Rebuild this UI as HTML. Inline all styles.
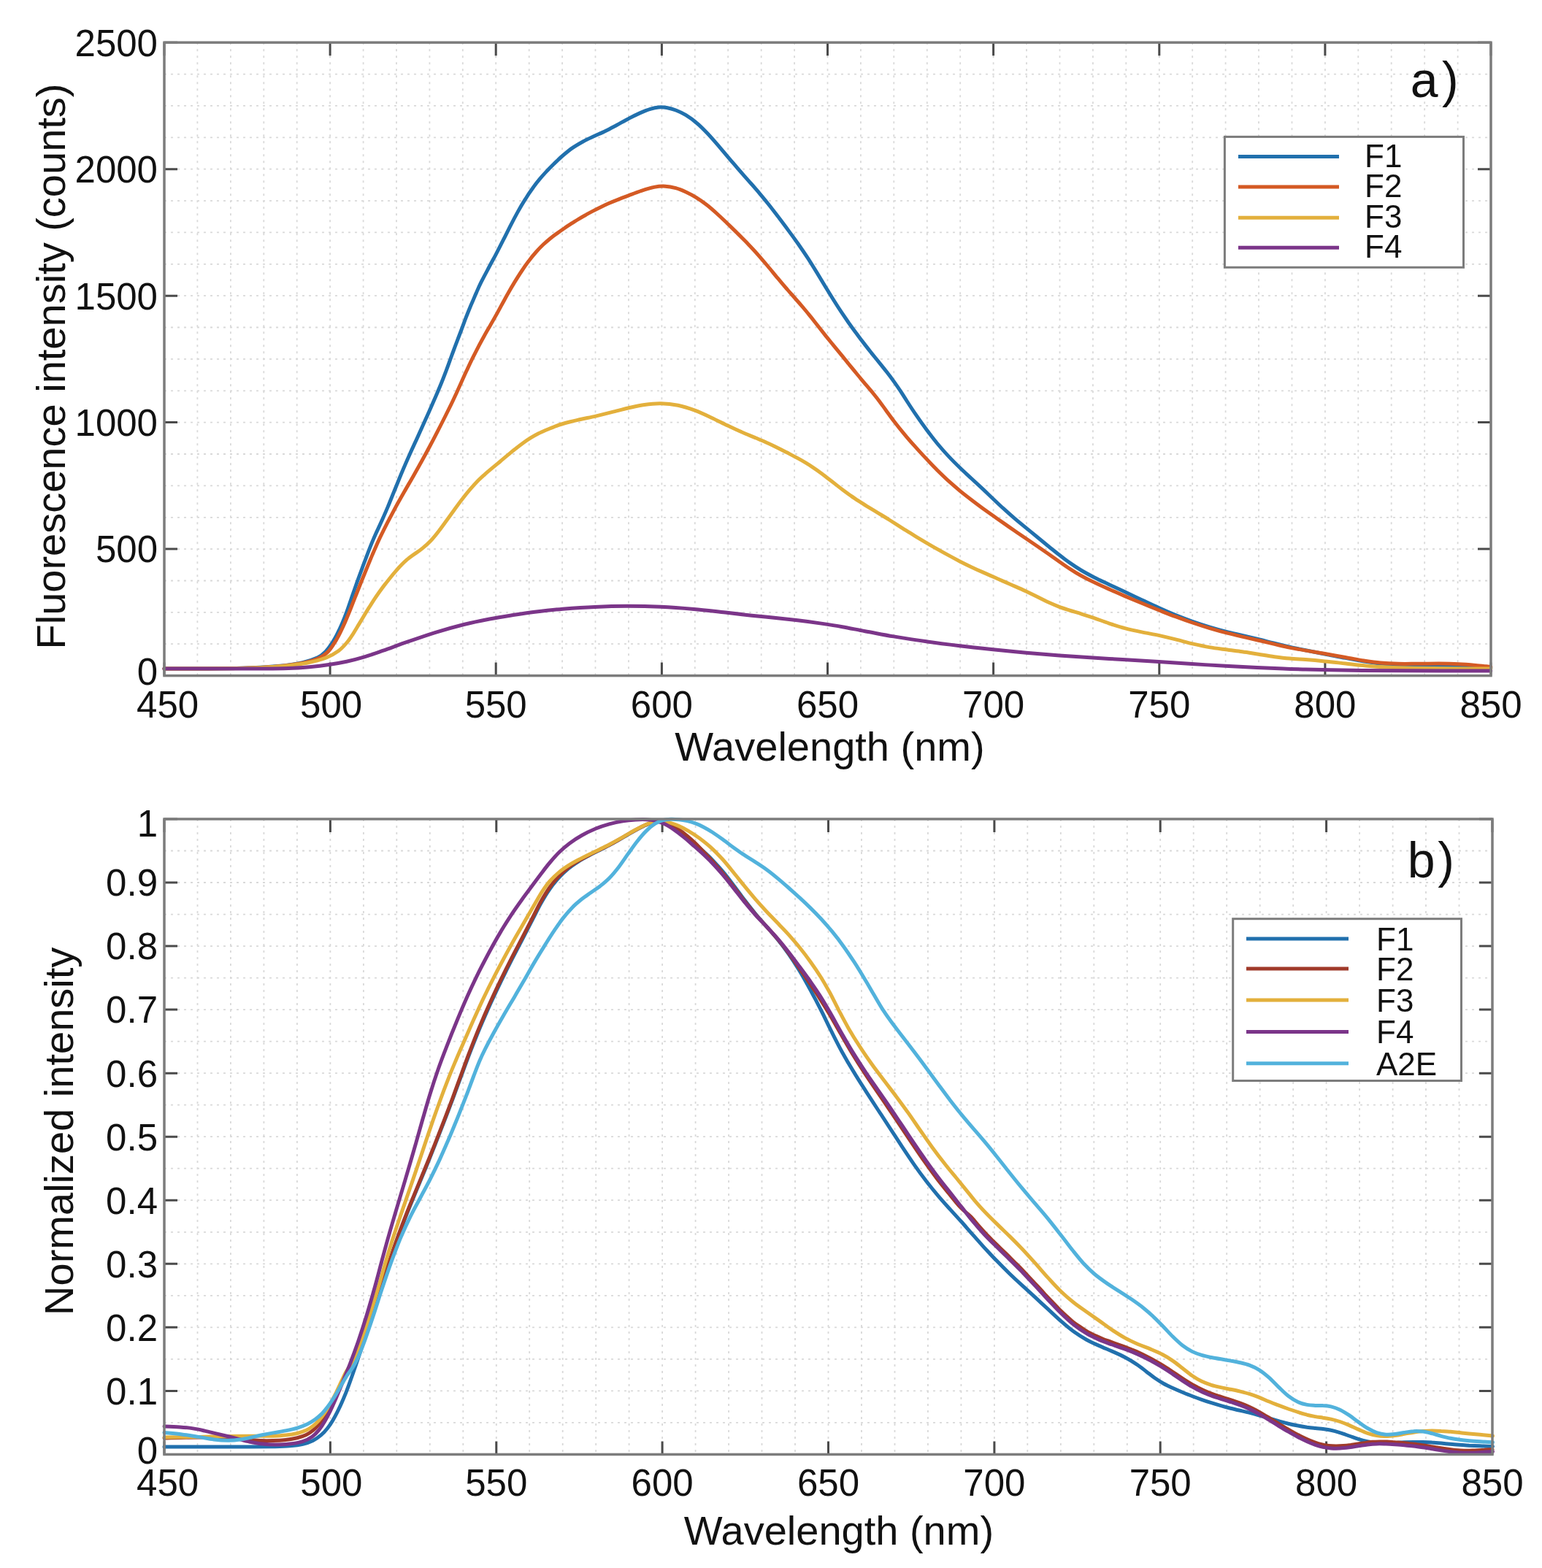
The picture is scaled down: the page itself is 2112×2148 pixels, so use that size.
<!DOCTYPE html>
<html><head><meta charset="utf-8"><title>Fluorescence spectra</title>
<style>html,body{margin:0;padding:0;background:#fff}svg{display:block}</style>
</head><body>
<svg xmlns="http://www.w3.org/2000/svg" width="2112" height="2148" viewBox="0 0 2112 2148">
<rect width="100%" height="100%" fill="#fff"/>
<path d="M270.4,58.2V925.6M315.9,58.2V925.6M361.3,58.2V925.6M406.7,58.2V925.6M452.1,58.2V925.6M497.6,58.2V925.6M543.0,58.2V925.6M588.4,58.2V925.6M633.8,58.2V925.6M679.2,58.2V925.6M724.7,58.2V925.6M770.1,58.2V925.6M815.5,58.2V925.6M861.0,58.2V925.6M906.4,58.2V925.6M951.8,58.2V925.6M997.2,58.2V925.6M1042.7,58.2V925.6M1088.1,58.2V925.6M1133.5,58.2V925.6M1178.9,58.2V925.6M1224.3,58.2V925.6M1269.8,58.2V925.6M1315.2,58.2V925.6M1360.6,58.2V925.6M1406.0,58.2V925.6M1451.5,58.2V925.6M1496.9,58.2V925.6M1542.3,58.2V925.6M1587.8,58.2V925.6M1633.2,58.2V925.6M1678.6,58.2V925.6M1724.0,58.2V925.6M1769.5,58.2V925.6M1814.9,58.2V925.6M1860.3,58.2V925.6M1905.7,58.2V925.6M1951.2,58.2V925.6M1996.6,58.2V925.6M225.0,882.2H2042.0M225.0,838.9H2042.0M225.0,795.5H2042.0M225.0,752.1H2042.0M225.0,708.8H2042.0M225.0,665.4H2042.0M225.0,622.0H2042.0M225.0,578.6H2042.0M225.0,535.3H2042.0M225.0,491.9H2042.0M225.0,448.5H2042.0M225.0,405.2H2042.0M225.0,361.8H2042.0M225.0,318.4H2042.0M225.0,275.1H2042.0M225.0,231.7H2042.0M225.0,188.3H2042.0M225.0,144.9H2042.0M225.0,101.6H2042.0" stroke="#d9d9d9" stroke-width="1.8" stroke-dasharray="3 6" fill="none"/>
<path d="M225.0,925.6v-18M225.0,58.2v18M452.1,925.6v-18M452.1,58.2v18M679.2,925.6v-18M679.2,58.2v18M906.4,925.6v-18M906.4,58.2v18M1133.5,925.6v-18M1133.5,58.2v18M1360.6,925.6v-18M1360.6,58.2v18M1587.8,925.6v-18M1587.8,58.2v18M1814.9,925.6v-18M1814.9,58.2v18M2042.0,925.6v-18M2042.0,58.2v18M225.0,925.6h18M2042.0,925.6h-18M225.0,752.1h18M2042.0,752.1h-18M225.0,578.6h18M2042.0,578.6h-18M225.0,405.2h18M2042.0,405.2h-18M225.0,231.7h18M2042.0,231.7h-18M225.0,58.2h18M2042.0,58.2h-18" stroke="#4a4a4a" stroke-width="3" fill="none"/>
<path d="M225.0,916.0 C231.1,916.0 249.3,916.0 261.9,916.0 C274.4,915.9 287.2,916.0 300.3,915.8 C313.4,915.7 327.1,915.6 340.5,915.1 C353.9,914.5 368.3,913.9 380.6,912.6 C392.9,911.4 405.2,909.6 414.3,907.6 C423.4,905.6 429.9,903.2 435.1,900.8 C440.4,898.3 442.9,895.7 445.9,892.7 C449.0,889.7 451.0,886.6 453.5,882.9 C456.0,879.2 458.4,875.0 460.9,870.4 C463.3,865.8 465.8,860.7 468.1,855.3 C470.5,849.8 472.8,843.9 475.0,837.9 C477.2,831.9 479.3,825.6 481.4,819.4 C483.6,813.2 485.7,806.9 487.9,800.7 C490.1,794.5 492.3,788.4 494.6,782.3 C496.8,776.2 499.1,770.0 501.4,764.1 C503.6,758.1 505.9,752.1 508.1,746.6 C510.4,741.0 512.6,736.0 515.0,730.6 C517.4,725.2 519.8,720.4 522.5,714.3 C525.2,708.2 528.2,701.5 531.3,694.1 C534.4,686.7 537.7,678.2 541.0,670.2 C544.3,662.2 547.6,653.8 550.9,646.0 C554.2,638.1 557.5,630.6 560.8,623.2 C564.1,615.8 567.4,608.7 570.7,601.6 C573.9,594.5 577.1,587.4 580.2,580.5 C583.4,573.6 586.5,566.6 589.4,560.1 C592.3,553.5 595.1,547.0 597.7,541.0 C600.3,535.0 602.6,529.4 604.8,524.0 C607.0,518.6 608.9,513.6 610.8,508.6 C612.7,503.6 614.4,498.9 616.1,494.1 C617.9,489.3 619.5,484.7 621.3,480.0 C623.0,475.3 624.8,470.7 626.5,466.1 C628.3,461.4 630.1,456.7 631.9,452.0 C633.6,447.3 635.4,442.5 637.1,437.9 C638.9,433.3 640.7,428.7 642.5,424.3 C644.2,420.0 646.0,415.8 647.8,411.8 C649.5,407.8 650.9,404.2 652.8,400.1 C654.6,395.9 656.3,391.9 658.8,386.9 C661.4,381.8 664.5,375.9 667.9,369.6 C671.2,363.3 675.2,356.0 678.9,349.1 C682.5,342.2 686.2,335.0 689.6,328.2 C693.1,321.4 696.3,314.7 699.6,308.3 C702.9,301.9 706.2,295.7 709.4,289.9 C712.7,284.0 716.0,278.4 719.3,273.2 C722.5,267.9 725.8,263.0 729.1,258.5 C732.3,253.9 735.5,249.7 738.7,245.9 C741.8,242.1 744.8,238.8 748.0,235.4 C751.2,231.9 754.3,228.8 757.9,225.2 C761.6,221.7 765.5,217.7 769.8,214.0 C774.2,210.3 778.9,206.3 783.7,202.9 C788.6,199.5 793.8,196.5 798.9,193.7 C804.0,191.0 809.3,188.7 814.4,186.3 C819.6,183.9 824.6,181.8 829.7,179.2 C834.8,176.7 839.7,174.0 845.0,171.2 C850.2,168.4 855.7,165.1 861.1,162.4 C866.4,159.6 872.1,156.8 877.0,154.6 C882.0,152.4 886.6,150.5 890.7,149.3 C894.9,148.0 898.2,147.2 902.0,146.9 C905.7,146.6 909.2,146.8 913.1,147.5 C917.1,148.2 921.3,149.3 925.7,151.0 C930.1,152.7 934.8,154.9 939.4,157.7 C944.1,160.6 948.9,164.0 953.6,168.0 C958.4,171.9 963.1,176.6 967.8,181.5 C972.5,186.3 977.2,191.8 981.8,197.1 C986.5,202.5 991.1,208.1 995.8,213.6 C1000.4,219.1 1005.1,224.5 1009.7,229.9 C1014.4,235.3 1019.0,240.5 1023.7,245.8 C1028.3,251.1 1033.0,256.2 1037.6,261.7 C1042.2,267.2 1046.9,272.7 1051.5,278.5 C1056.2,284.3 1060.8,290.4 1065.5,296.5 C1070.1,302.6 1074.8,308.8 1079.4,315.1 C1084.1,321.4 1088.7,327.7 1093.3,334.2 C1097.8,340.7 1102.4,347.4 1106.8,354.1 C1111.1,360.8 1115.4,367.8 1119.4,374.4 C1123.5,381.1 1127.3,387.6 1131.1,393.8 C1134.8,399.9 1138.4,405.7 1141.9,411.3 C1145.4,416.9 1148.8,422.2 1152.3,427.4 C1155.8,432.6 1159.2,437.6 1162.6,442.5 C1166.1,447.3 1169.5,452.1 1173.0,456.7 C1176.4,461.4 1179.8,465.9 1183.3,470.4 C1186.7,474.9 1190.2,479.3 1193.6,483.6 C1197.1,487.9 1200.5,492.1 1204.0,496.4 C1207.4,500.6 1210.9,504.9 1214.3,509.3 C1217.7,513.6 1221.1,518.1 1224.3,522.6 C1227.5,527.0 1230.4,531.3 1233.5,535.9 C1236.5,540.6 1239.3,545.1 1242.8,550.5 C1246.3,555.9 1250.2,561.9 1254.5,568.2 C1258.8,574.5 1263.9,581.7 1268.8,588.3 C1273.7,595.0 1279.0,601.8 1284.1,608.0 C1289.2,614.1 1294.3,619.9 1299.5,625.4 C1304.6,630.9 1309.8,636.0 1315.0,641.0 C1320.3,646.1 1325.6,650.9 1330.8,655.8 C1336.0,660.6 1341.1,665.3 1346.1,669.9 C1351.1,674.6 1355.8,679.2 1360.6,683.7 C1365.4,688.3 1370.1,692.8 1375.0,697.2 C1379.9,701.7 1384.8,706.1 1389.9,710.4 C1394.9,714.7 1400.1,718.9 1405.3,723.1 C1410.4,727.3 1415.6,731.5 1420.7,735.7 C1425.8,739.9 1430.9,744.1 1435.9,748.2 C1440.9,752.2 1445.8,756.3 1450.7,760.1 C1455.5,763.9 1460.1,767.5 1465.1,770.9 C1470.1,774.4 1475.0,777.7 1480.5,781.0 C1486.0,784.3 1491.8,787.4 1498.2,790.7 C1504.5,793.9 1511.4,797.1 1518.5,800.5 C1525.6,803.8 1533.2,807.3 1540.7,810.8 C1548.3,814.4 1556.1,818.1 1563.8,821.7 C1571.5,825.3 1579.3,829.1 1587.0,832.5 C1594.7,836.0 1602.4,839.4 1610.1,842.6 C1617.8,845.7 1625.5,848.6 1633.2,851.3 C1640.9,854.0 1648.6,856.5 1656.2,858.8 C1663.8,861.1 1671.3,863.2 1678.8,865.1 C1686.4,867.1 1693.8,868.7 1701.3,870.5 C1708.8,872.3 1716.4,874.1 1723.7,875.8 C1731.1,877.6 1738.5,879.6 1745.6,881.3 C1752.6,883.1 1759.1,884.7 1766.2,886.3 C1773.3,887.8 1780.1,889.2 1788.2,890.8 C1796.3,892.4 1805.6,894.2 1814.6,896.0 C1823.7,897.7 1833.8,899.8 1842.6,901.4 C1851.4,903.1 1859.7,904.7 1867.2,905.9 C1874.8,907.1 1881.2,908.1 1888.0,908.8 C1894.8,909.5 1900.7,909.9 1907.8,910.2 C1914.8,910.6 1922.1,910.7 1930.3,910.9 C1938.5,911.0 1947.7,911.1 1956.9,911.3 C1966.2,911.5 1976.2,911.7 1985.7,912.0 C1995.2,912.4 2004.8,912.8 2014.2,913.3 C2023.5,913.8 2037.2,914.7 2041.8,915.0" stroke="#2170ad" stroke-width="5" fill="none" stroke-linejoin="round" stroke-linecap="round"/>
<path d="M225.0,916.0 C231.1,916.0 249.3,916.0 261.9,916.0 C274.4,915.9 287.2,916.0 300.3,915.8 C313.4,915.7 327.1,915.6 340.7,915.1 C354.2,914.6 368.9,913.9 381.5,912.7 C394.1,911.5 406.9,909.8 416.3,907.9 C425.7,905.9 432.5,903.6 437.9,901.1 C443.3,898.6 445.8,896.0 448.9,893.1 C452.0,890.1 454.0,887.0 456.5,883.2 C459.0,879.5 461.4,875.4 463.8,870.8 C466.3,866.2 468.7,861.0 471.2,855.5 C473.7,850.0 476.1,843.9 478.7,837.7 C481.2,831.5 483.8,824.8 486.3,818.4 C488.9,811.9 491.5,805.3 494.0,799.0 C496.5,792.8 498.9,786.8 501.3,781.0 C503.6,775.2 505.9,769.7 508.2,764.2 C510.5,758.8 512.7,753.6 515.0,748.4 C517.3,743.2 519.5,738.3 522.2,732.9 C524.8,727.5 527.5,722.0 530.7,715.8 C533.9,709.7 537.6,702.8 541.3,695.8 C545.1,688.9 549.3,681.5 553.4,674.3 C557.4,667.1 561.7,660.0 565.7,652.9 C569.8,645.7 573.8,638.6 577.7,631.5 C581.6,624.5 585.5,617.3 589.1,610.5 C592.8,603.6 596.3,596.8 599.6,590.3 C603.0,583.8 606.2,577.5 609.2,571.5 C612.2,565.5 615.0,559.9 617.7,554.4 C620.4,548.9 622.7,543.8 625.2,538.5 C627.6,533.2 630.0,527.9 632.4,522.5 C634.8,517.1 637.3,511.4 639.9,506.1 C642.4,500.7 644.9,495.3 647.5,490.1 C650.1,484.9 652.7,479.8 655.3,474.8 C657.9,469.8 660.6,464.9 663.2,460.2 C665.8,455.4 668.5,450.9 671.1,446.4 C673.7,441.9 676.2,437.6 678.8,432.9 C681.4,428.3 683.9,423.6 686.6,418.6 C689.4,413.6 692.2,408.3 695.2,403.0 C698.2,397.7 701.4,392.2 704.6,386.9 C707.8,381.7 711.1,376.4 714.4,371.5 C717.6,366.6 720.9,361.9 724.2,357.6 C727.4,353.2 730.7,349.2 734.0,345.5 C737.3,341.8 740.5,338.4 743.8,335.3 C747.1,332.1 750.3,329.4 753.6,326.7 C756.9,324.1 760.2,321.7 763.4,319.4 C766.7,317.0 770.0,314.7 773.3,312.5 C776.5,310.3 779.8,308.1 783.1,305.9 C786.3,303.8 789.6,301.8 792.9,299.8 C796.2,297.8 799.4,296.0 802.7,294.2 C806.0,292.3 809.2,290.6 812.5,288.9 C815.8,287.2 819.0,285.6 822.3,284.0 C825.7,282.3 828.9,280.7 832.7,279.0 C836.6,277.3 840.6,275.6 845.3,273.8 C850.0,271.9 855.4,269.9 860.9,267.9 C866.4,265.8 872.6,263.3 878.4,261.4 C884.2,259.5 890.2,257.5 895.7,256.4 C901.2,255.4 906.4,254.9 911.4,255.2 C916.4,255.4 920.9,256.4 925.5,257.7 C930.2,259.0 934.7,260.9 939.4,263.0 C944.1,265.2 948.9,267.7 953.6,270.6 C958.4,273.5 963.1,276.9 967.8,280.5 C972.5,284.1 977.2,288.3 981.8,292.5 C986.5,296.7 991.1,301.2 995.8,305.7 C1000.4,310.2 1005.1,314.7 1009.7,319.3 C1014.4,323.9 1019.0,328.4 1023.7,333.3 C1028.3,338.1 1033.0,343.0 1037.6,348.3 C1042.2,353.5 1046.9,359.0 1051.5,364.5 C1056.2,370.0 1060.8,375.9 1065.3,381.2 C1069.7,386.6 1074.1,391.8 1078.3,396.5 C1082.4,401.3 1086.2,405.4 1089.9,409.7 C1093.7,413.9 1097.1,417.8 1100.6,422.0 C1104.1,426.1 1107.5,430.4 1111.0,434.7 C1114.4,439.0 1117.9,443.5 1121.3,447.8 C1124.8,452.2 1128.2,456.6 1131.6,460.9 C1135.1,465.1 1138.5,469.4 1142.0,473.6 C1145.4,477.8 1148.9,481.9 1152.3,486.1 C1155.7,490.3 1159.2,494.5 1162.6,498.8 C1166.1,503.0 1169.5,507.3 1173.0,511.5 C1176.4,515.7 1179.9,519.8 1183.3,523.9 C1186.7,527.9 1190.2,531.9 1193.5,535.9 C1196.8,540.0 1200.0,543.9 1203.3,548.2 C1206.6,552.5 1209.6,556.8 1213.2,561.7 C1216.7,566.5 1220.4,571.8 1224.6,577.2 C1228.8,582.7 1233.5,588.6 1238.3,594.3 C1243.0,600.1 1248.2,606.0 1253.3,611.6 C1258.3,617.3 1263.6,623.0 1268.7,628.4 C1273.8,633.9 1279.0,639.3 1284.1,644.5 C1289.3,649.6 1294.3,654.5 1299.5,659.2 C1304.6,663.8 1309.8,668.2 1315.0,672.6 C1320.3,676.9 1325.6,681.0 1330.8,685.0 C1336.0,689.0 1341.1,692.8 1346.1,696.5 C1351.1,700.1 1355.8,703.4 1360.6,706.8 C1365.4,710.2 1370.1,713.5 1375.0,716.9 C1379.9,720.4 1384.8,723.8 1389.9,727.3 C1394.9,730.8 1400.1,734.3 1405.3,737.8 C1410.4,741.3 1415.6,744.8 1420.7,748.3 C1425.8,751.8 1430.9,755.3 1435.9,758.8 C1440.9,762.3 1445.8,765.8 1450.7,769.2 C1455.5,772.6 1460.1,775.9 1465.1,779.1 C1470.1,782.4 1475.0,785.5 1480.5,788.5 C1486.0,791.6 1491.8,794.6 1498.2,797.6 C1504.5,800.7 1511.4,803.8 1518.5,806.9 C1525.6,810.1 1533.2,813.4 1540.7,816.6 C1548.3,819.8 1556.1,823.1 1563.8,826.3 C1571.5,829.5 1579.3,832.7 1587.0,835.8 C1594.7,838.8 1602.4,841.9 1610.1,844.7 C1617.8,847.6 1625.5,850.4 1633.2,853.0 C1640.9,855.6 1648.6,858.1 1656.2,860.4 C1663.8,862.7 1671.3,864.7 1678.8,866.7 C1686.4,868.6 1693.8,870.3 1701.3,872.1 C1708.8,873.8 1716.4,875.5 1723.7,877.2 C1731.1,878.9 1738.5,880.7 1745.6,882.4 C1752.6,884.0 1759.1,885.6 1766.2,887.1 C1773.3,888.5 1780.1,889.7 1788.2,891.1 C1796.3,892.5 1805.6,893.9 1814.6,895.5 C1823.7,897.1 1833.8,898.9 1842.6,900.5 C1851.4,902.0 1859.7,903.7 1867.7,905.0 C1875.7,906.2 1882.8,907.3 1890.8,908.0 C1898.7,908.7 1906.5,909.1 1915.1,909.3 C1923.7,909.5 1933.0,909.3 1942.2,909.3 C1951.5,909.2 1961.5,909.1 1970.7,909.1 C1980.0,909.2 1989.3,909.4 1997.6,909.8 C2006.0,910.2 2013.7,910.8 2021.1,911.4 C2028.4,912.0 2038.3,913.2 2041.8,913.5" stroke="#d45a24" stroke-width="5" fill="none" stroke-linejoin="round" stroke-linecap="round"/>
<path d="M225.0,916.0 C231.1,916.0 249.3,916.0 261.9,916.0 C274.4,915.9 287.2,915.9 300.3,915.8 C313.5,915.7 327.0,915.6 340.7,915.2 C354.4,914.7 369.1,914.1 382.3,913.0 C395.6,911.8 409.2,910.2 420.0,908.2 C430.8,906.2 439.7,903.7 446.9,900.9 C454.2,898.2 458.8,895.2 463.5,891.8 C468.1,888.3 471.5,884.5 474.9,880.5 C478.3,876.5 481.1,872.0 483.9,867.8 C486.7,863.5 489.1,859.2 491.6,855.1 C494.1,851.0 496.5,847.0 498.9,843.0 C501.3,839.0 503.7,835.0 506.2,831.2 C508.6,827.3 511.0,823.5 513.4,819.9 C515.8,816.3 518.2,812.9 520.6,809.5 C523.0,806.2 525.4,803.0 527.8,799.9 C530.3,796.7 532.7,793.7 535.1,790.7 C537.5,787.7 539.9,784.8 542.3,782.1 C544.7,779.3 547.0,776.6 549.6,774.1 C552.1,771.5 554.5,769.1 557.4,766.6 C560.4,764.2 563.6,761.9 567.1,759.4 C570.7,756.8 574.8,754.3 578.6,751.1 C582.5,748.0 586.5,744.4 590.2,740.5 C593.9,736.6 597.5,732.1 601.0,727.5 C604.6,723.0 608.0,718.1 611.5,713.3 C615.0,708.5 618.5,703.5 622.0,698.7 C625.5,693.9 629.0,689.0 632.5,684.5 C636.0,679.9 639.5,675.4 643.0,671.3 C646.5,667.2 650.0,663.3 653.5,659.7 C657.0,656.1 660.5,653.0 664.0,649.8 C667.5,646.7 671.0,643.8 674.5,640.9 C678.0,637.9 681.5,635.1 685.0,632.2 C688.5,629.2 692.0,626.3 695.5,623.4 C699.0,620.5 702.5,617.5 706.1,614.8 C709.6,612.0 713.1,609.2 716.6,606.7 C720.1,604.2 723.6,601.9 727.1,599.7 C730.6,597.6 734.1,595.6 737.6,593.8 C741.1,592.0 744.6,590.5 748.1,589.0 C751.6,587.4 755.1,586.1 758.6,584.8 C762.1,583.4 765.5,582.2 769.3,581.0 C773.1,579.8 776.6,578.8 781.1,577.7 C785.6,576.5 790.5,575.6 796.2,574.3 C802.0,573.0 808.8,571.7 815.8,570.1 C822.7,568.5 830.4,566.6 837.8,564.7 C845.3,562.9 852.8,560.7 860.3,559.0 C867.8,557.3 875.2,555.4 882.7,554.4 C890.3,553.3 897.9,552.5 905.5,552.7 C913.2,552.8 920.9,553.7 928.6,555.3 C936.3,556.9 944.0,559.4 951.6,562.2 C959.3,565.1 966.9,568.7 974.4,572.2 C981.9,575.7 989.5,579.7 996.7,583.1 C1004.0,586.6 1011.3,590.0 1017.9,592.8 C1024.4,595.7 1030.6,598.1 1036.0,600.3 C1041.3,602.5 1045.7,604.3 1049.8,606.2 C1054.0,608.0 1057.4,609.7 1061.0,611.5 C1064.6,613.3 1068.0,615.0 1071.5,616.8 C1075.0,618.5 1078.5,620.3 1082.0,622.1 C1085.5,623.9 1089.0,625.7 1092.5,627.7 C1096.0,629.6 1099.5,631.6 1103.0,633.7 C1106.5,635.8 1110.0,638.0 1113.5,640.3 C1117.0,642.6 1120.5,645.1 1124.0,647.7 C1127.5,650.2 1131.0,653.0 1134.5,655.7 C1138.0,658.4 1141.5,661.2 1145.0,663.9 C1148.5,666.7 1152.0,669.4 1155.5,672.0 C1159.0,674.6 1162.5,677.2 1166.1,679.6 C1169.6,682.1 1173.1,684.4 1176.6,686.7 C1180.1,689.0 1183.6,691.2 1187.1,693.4 C1190.6,695.5 1194.1,697.6 1197.6,699.7 C1201.1,701.8 1204.6,703.9 1208.1,706.0 C1211.6,708.1 1215.0,710.2 1218.6,712.5 C1222.1,714.7 1225.6,716.9 1229.4,719.3 C1233.1,721.7 1236.8,724.1 1241.0,726.7 C1245.1,729.3 1249.5,732.0 1254.1,734.8 C1258.8,737.6 1263.8,740.6 1268.8,743.6 C1273.8,746.5 1279.0,749.5 1284.1,752.4 C1289.2,755.3 1294.3,758.1 1299.5,760.9 C1304.6,763.7 1309.8,766.5 1315.0,769.2 C1320.3,771.9 1325.6,774.5 1330.8,776.9 C1336.0,779.4 1341.1,781.7 1346.1,783.9 C1351.1,786.1 1355.8,788.2 1360.6,790.3 C1365.4,792.5 1370.1,794.5 1375.0,796.6 C1379.9,798.8 1384.8,800.8 1389.9,803.1 C1394.9,805.3 1400.1,807.6 1405.3,810.0 C1410.4,812.5 1415.6,815.1 1420.7,817.6 C1425.8,820.2 1430.9,822.8 1435.9,825.1 C1441.0,827.4 1445.9,829.5 1450.9,831.4 C1456.0,833.3 1461.0,834.8 1466.2,836.5 C1471.3,838.1 1476.5,839.5 1482.0,841.3 C1487.5,843.0 1493.1,844.8 1499.2,846.9 C1505.3,849.0 1511.8,851.5 1518.7,853.8 C1525.7,856.1 1533.2,858.6 1540.7,860.6 C1548.2,862.6 1556.1,864.3 1563.8,865.9 C1571.5,867.5 1579.3,868.8 1587.0,870.4 C1594.7,872.1 1602.4,874.0 1610.1,875.9 C1617.8,877.8 1625.5,880.1 1633.2,881.9 C1640.9,883.6 1648.6,885.3 1656.2,886.6 C1663.8,887.9 1671.3,888.8 1678.8,889.8 C1686.4,890.9 1693.8,891.7 1701.3,892.8 C1708.8,893.8 1716.4,895.1 1723.7,896.2 C1731.1,897.4 1738.5,898.7 1745.6,899.7 C1752.6,900.6 1759.1,901.4 1766.2,902.0 C1773.3,902.7 1780.1,903.0 1788.2,903.6 C1796.3,904.2 1805.5,905.0 1814.6,905.9 C1823.8,906.7 1833.8,908.0 1843.1,909.0 C1852.4,910.0 1861.0,911.1 1870.4,911.9 C1879.9,912.8 1888.7,913.5 1899.9,914.0 C1911.2,914.6 1923.5,915.0 1937.9,915.3 C1952.3,915.6 1969.3,915.7 1986.6,915.8 C2003.9,916.0 2032.6,916.0 2041.8,916.0" stroke="#e3b03c" stroke-width="5" fill="none" stroke-linejoin="round" stroke-linecap="round"/>
<path d="M225.0,916.0 C231.1,916.0 249.3,916.0 261.9,916.0 C274.4,916.0 287.5,916.0 300.3,916.0 C313.1,916.0 326.7,916.1 338.9,916.1 C351.0,916.0 362.9,916.1 373.3,915.9 C383.7,915.8 392.5,915.6 401.3,915.2 C410.1,914.7 417.7,914.2 426.0,913.4 C434.2,912.7 442.4,911.7 450.5,910.5 C458.7,909.3 466.7,907.9 474.7,906.2 C482.7,904.5 490.0,902.6 498.3,900.1 C506.7,897.6 515.1,894.6 525.0,891.2 C535.0,887.7 546.4,883.3 558.3,879.2 C570.2,875.0 583.8,870.3 596.6,866.3 C609.5,862.4 623.1,858.6 635.4,855.5 C647.7,852.5 659.6,850.1 670.5,848.0 C681.5,845.8 690.7,844.4 701.1,842.8 C711.4,841.2 720.9,839.7 732.6,838.3 C744.2,836.9 757.2,835.4 770.9,834.2 C784.6,833.1 799.8,832.0 814.6,831.4 C829.4,830.7 844.6,830.3 859.7,830.3 C874.7,830.3 889.8,830.6 904.9,831.3 C920.0,832.0 935.5,833.2 950.3,834.5 C965.1,835.8 980.4,837.7 993.6,839.1 C1006.8,840.6 1018.6,842.0 1029.7,843.2 C1040.8,844.4 1049.8,845.2 1060.2,846.3 C1070.7,847.4 1081.7,848.6 1092.5,849.8 C1103.3,851.1 1114.8,852.6 1125.0,854.1 C1135.2,855.6 1143.8,856.9 1153.7,858.7 C1163.7,860.5 1173.1,862.5 1184.8,864.7 C1196.5,866.8 1210.0,869.5 1224.0,871.9 C1238.0,874.2 1253.6,876.7 1268.7,878.8 C1283.8,881.0 1299.3,882.9 1314.5,884.7 C1329.8,886.6 1344.9,888.2 1360.1,889.8 C1375.3,891.4 1390.4,892.9 1405.6,894.3 C1420.8,895.6 1436.0,896.9 1451.1,898.1 C1466.3,899.2 1481.5,900.1 1496.6,901.1 C1511.7,902.0 1526.8,902.8 1541.9,903.7 C1557.0,904.6 1572.1,905.6 1587.3,906.6 C1602.4,907.6 1617.5,908.6 1632.6,909.6 C1647.7,910.5 1663.3,911.4 1678.1,912.2 C1692.9,913.0 1708.3,913.8 1721.5,914.5 C1734.8,915.1 1746.7,915.7 1757.8,916.1 C1768.9,916.6 1777.3,916.8 1788.2,917.1 C1799.0,917.4 1809.9,917.6 1822.9,917.8 C1835.9,918.0 1850.8,918.2 1866.0,918.4 C1881.3,918.6 1896.7,918.7 1914.4,918.8 C1932.0,918.9 1950.7,918.9 1971.9,918.9 C1993.1,919.0 2030.1,919.0 2041.8,919.0" stroke="#7b3589" stroke-width="5" fill="none" stroke-linejoin="round" stroke-linecap="round"/>
<rect x="225.0" y="58.2" width="1817.0" height="867.4" fill="none" stroke="#7c7c7c" stroke-width="3.5"/>
<g font-family="Liberation Sans, Arial, Helvetica, sans-serif" font-size="51" fill="#111">
<text x="216" y="937.5" text-anchor="end">0</text>
<text x="216" y="770.4" text-anchor="end">500</text>
<text x="216" y="596.9" text-anchor="end">1000</text>
<text x="216" y="423.5" text-anchor="end">1500</text>
<text x="216" y="250.0" text-anchor="end">2000</text>
<text x="216" y="76.5" text-anchor="end">2500</text>
<text x="229.6" y="982.5" text-anchor="middle">450</text>
<text x="453.6" y="982.5" text-anchor="middle">500</text>
<text x="679.2" y="982.5" text-anchor="middle">550</text>
<text x="906.4" y="982.5" text-anchor="middle">600</text>
<text x="1133.5" y="982.5" text-anchor="middle">650</text>
<text x="1360.6" y="982.5" text-anchor="middle">700</text>
<text x="1587.8" y="982.5" text-anchor="middle">750</text>
<text x="1814.9" y="982.5" text-anchor="middle">800</text>
<text x="2042.0" y="982.5" text-anchor="middle">850</text>
</g>
<text font-family="Liberation Sans, Arial, Helvetica, sans-serif" font-size="56" fill="#111" x="1136.5" y="1042" text-anchor="middle">Wavelength (nm)</text>
<text font-family="Liberation Sans, Arial, Helvetica, sans-serif" font-size="56" fill="#111" transform="translate(88.5,502) rotate(-90)" text-anchor="middle">Fluorescence intensity (counts)</text>
<text font-family="Liberation Sans, Arial, Helvetica, sans-serif" font-size="68" fill="#111" x="1931.7" y="132.5">a<tspan dx="5.5">)</tspan></text>
<rect x="1677.4" y="187.4" width="327.1" height="178.9" fill="#fff" stroke="#7c7c7c" stroke-width="3"/>
<path d="M1696,214.4H1834" stroke="#2170ad" stroke-width="5"/>
<text font-family="Liberation Sans, Arial, Helvetica, sans-serif" font-size="44" fill="#111" x="1869" y="228.6">F1</text>
<path d="M1696,256.0H1834" stroke="#d45a24" stroke-width="5"/>
<text font-family="Liberation Sans, Arial, Helvetica, sans-serif" font-size="44" fill="#111" x="1869" y="270.2">F2</text>
<path d="M1696,298.2H1834" stroke="#e3b03c" stroke-width="5"/>
<text font-family="Liberation Sans, Arial, Helvetica, sans-serif" font-size="44" fill="#111" x="1869" y="312.4">F3</text>
<path d="M1696,339.2H1834" stroke="#7b3589" stroke-width="5"/>
<text font-family="Liberation Sans, Arial, Helvetica, sans-serif" font-size="44" fill="#111" x="1869" y="353.4">F4</text>
<path d="M270.5,1122.0V1992.4M315.9,1122.0V1992.4M361.4,1122.0V1992.4M406.9,1122.0V1992.4M452.4,1122.0V1992.4M497.9,1122.0V1992.4M543.3,1122.0V1992.4M588.8,1122.0V1992.4M634.3,1122.0V1992.4M679.8,1122.0V1992.4M725.2,1122.0V1992.4M770.7,1122.0V1992.4M816.2,1122.0V1992.4M861.6,1122.0V1992.4M907.1,1122.0V1992.4M952.6,1122.0V1992.4M998.1,1122.0V1992.4M1043.5,1122.0V1992.4M1089.0,1122.0V1992.4M1134.5,1122.0V1992.4M1180.0,1122.0V1992.4M1225.5,1122.0V1992.4M1270.9,1122.0V1992.4M1316.4,1122.0V1992.4M1361.9,1122.0V1992.4M1407.3,1122.0V1992.4M1452.8,1122.0V1992.4M1498.3,1122.0V1992.4M1543.8,1122.0V1992.4M1589.2,1122.0V1992.4M1634.7,1122.0V1992.4M1680.2,1122.0V1992.4M1725.7,1122.0V1992.4M1771.2,1122.0V1992.4M1816.6,1122.0V1992.4M1862.1,1122.0V1992.4M1907.6,1122.0V1992.4M1953.0,1122.0V1992.4M1998.5,1122.0V1992.4M225.0,1948.9H2044.0M225.0,1905.4H2044.0M225.0,1861.8H2044.0M225.0,1818.3H2044.0M225.0,1774.8H2044.0M225.0,1731.3H2044.0M225.0,1687.8H2044.0M225.0,1644.2H2044.0M225.0,1600.7H2044.0M225.0,1557.2H2044.0M225.0,1513.7H2044.0M225.0,1470.2H2044.0M225.0,1426.6H2044.0M225.0,1383.1H2044.0M225.0,1339.6H2044.0M225.0,1296.1H2044.0M225.0,1252.6H2044.0M225.0,1209.0H2044.0M225.0,1165.5H2044.0" stroke="#d9d9d9" stroke-width="1.8" stroke-dasharray="3 6" fill="none"/>
<path d="M225.0,1992.4v-18M225.0,1122.0v18M452.4,1992.4v-18M452.4,1122.0v18M679.8,1992.4v-18M679.8,1122.0v18M907.1,1992.4v-18M907.1,1122.0v18M1134.5,1992.4v-18M1134.5,1122.0v18M1361.9,1992.4v-18M1361.9,1122.0v18M1589.2,1992.4v-18M1589.2,1122.0v18M1816.6,1992.4v-18M1816.6,1122.0v18M2044.0,1992.4v-18M2044.0,1122.0v18M225.0,1992.4h18M2044.0,1992.4h-18M225.0,1905.4h18M2044.0,1905.4h-18M225.0,1818.3h18M2044.0,1818.3h-18M225.0,1731.3h18M2044.0,1731.3h-18M225.0,1644.2h18M2044.0,1644.2h-18M225.0,1557.2h18M2044.0,1557.2h-18M225.0,1470.2h18M2044.0,1470.2h-18M225.0,1383.1h18M2044.0,1383.1h-18M225.0,1296.1h18M2044.0,1296.1h-18M225.0,1209.0h18M2044.0,1209.0h-18M225.0,1122.0h18M2044.0,1122.0h-18" stroke="#4a4a4a" stroke-width="3" fill="none"/>
<path d="M225.0,1982.0 C236.0,1982.0 271.8,1982.0 291.2,1982.0 C310.7,1982.0 327.9,1982.0 341.7,1981.9 C355.4,1981.8 364.8,1981.8 374.0,1981.7 C383.1,1981.5 389.9,1981.4 396.7,1980.8 C403.5,1980.2 409.5,1979.5 414.8,1978.3 C420.1,1977.0 424.5,1975.4 428.6,1973.4 C432.7,1971.4 436.1,1968.9 439.4,1966.1 C442.7,1963.4 445.7,1960.1 448.4,1956.7 C451.2,1953.2 453.7,1949.3 456.0,1945.4 C458.4,1941.5 460.5,1937.4 462.6,1933.2 C464.6,1929.1 466.6,1924.9 468.5,1920.5 C470.4,1916.1 472.2,1911.9 474.1,1907.1 C476.0,1902.2 477.7,1897.7 479.9,1891.4 C482.2,1885.2 484.5,1878.3 487.6,1869.4 C490.6,1860.5 494.4,1849.5 498.1,1838.2 C501.9,1826.9 506.2,1813.8 510.2,1801.6 C514.2,1789.4 518.1,1776.9 521.9,1765.0 C525.7,1753.0 529.4,1741.4 533.2,1729.9 C537.0,1718.4 540.8,1707.1 544.8,1696.0 C548.8,1684.9 553.0,1673.9 557.2,1663.1 C561.4,1652.3 565.9,1641.7 570.2,1631.1 C574.6,1620.6 578.9,1610.2 583.2,1599.8 C587.4,1589.4 591.5,1579.1 595.7,1568.6 C599.8,1558.1 604.0,1547.6 608.1,1536.9 C612.2,1526.3 616.3,1515.5 620.3,1504.8 C624.3,1494.0 628.2,1483.4 632.2,1472.6 C636.2,1461.8 640.2,1450.9 644.5,1439.9 C648.8,1428.9 653.3,1417.6 657.9,1406.6 C662.6,1395.6 667.4,1384.6 672.2,1374.0 C677.1,1363.3 682.0,1352.9 686.9,1342.8 C691.8,1332.7 696.8,1322.7 701.7,1313.1 C706.6,1303.6 711.6,1294.3 716.2,1285.4 C720.8,1276.5 725.2,1267.9 729.3,1259.8 C733.5,1251.8 737.2,1244.0 741.1,1237.1 C745.0,1230.1 748.8,1223.8 752.9,1218.0 C756.9,1212.3 761.0,1207.3 765.2,1202.6 C769.4,1198.0 773.7,1194.0 778.2,1190.2 C782.7,1186.4 787.5,1183.2 792.4,1180.1 C797.2,1176.9 802.5,1174.2 807.4,1171.5 C812.2,1168.9 817.0,1166.7 821.5,1164.4 C826.1,1162.1 830.3,1160.1 834.5,1157.9 C838.8,1155.6 842.9,1153.3 847.1,1150.9 C851.3,1148.5 855.5,1145.9 859.7,1143.5 C863.9,1141.1 868.2,1138.6 872.4,1136.4 C876.5,1134.2 880.7,1132.0 884.6,1130.3 C888.6,1128.6 892.3,1127.0 895.9,1126.3 C899.5,1125.6 902.8,1125.3 906.3,1126.0 C909.9,1126.7 913.4,1128.4 917.2,1130.4 C921.0,1132.5 925.1,1135.5 929.2,1138.4 C933.2,1141.3 937.4,1144.8 941.2,1147.9 C945.1,1150.9 948.6,1153.8 952.3,1156.9 C955.9,1159.9 959.2,1162.4 963.0,1165.9 C966.9,1169.4 971.1,1173.2 975.6,1177.9 C980.0,1182.5 985.1,1188.0 990.0,1193.9 C994.9,1199.7 1000.0,1206.4 1004.9,1213.0 C1009.9,1219.5 1014.9,1226.6 1019.9,1233.1 C1024.9,1239.6 1029.9,1246.0 1034.9,1252.0 C1039.9,1258.0 1044.9,1263.5 1049.9,1269.2 C1054.9,1275.0 1059.9,1280.5 1064.9,1286.8 C1069.9,1293.0 1074.9,1299.5 1079.9,1306.5 C1084.8,1313.5 1089.9,1321.4 1094.5,1328.9 C1099.2,1336.5 1103.7,1344.8 1107.7,1351.9 C1111.6,1358.9 1114.8,1365.1 1118.1,1371.4 C1121.4,1377.7 1123.9,1382.6 1127.4,1389.5 C1130.8,1396.5 1134.4,1404.3 1138.8,1412.9 C1143.1,1421.5 1148.2,1431.8 1153.4,1441.2 C1158.5,1450.5 1164.1,1460.0 1169.6,1468.9 C1175.0,1477.9 1180.6,1486.5 1186.1,1495.1 C1191.6,1503.7 1197.1,1512.0 1202.6,1520.5 C1208.2,1528.9 1213.7,1537.4 1219.2,1545.8 C1224.7,1554.2 1230.2,1562.8 1235.7,1571.1 C1241.2,1579.4 1246.7,1587.7 1252.2,1595.6 C1257.7,1603.5 1263.3,1611.1 1268.8,1618.2 C1274.3,1625.4 1279.8,1632.1 1285.3,1638.6 C1290.7,1645.0 1296.2,1651.0 1301.5,1656.9 C1306.8,1662.7 1311.8,1668.2 1316.9,1673.8 C1322.0,1679.5 1326.7,1685.0 1331.9,1690.8 C1337.1,1696.6 1342.4,1702.7 1347.9,1708.8 C1353.5,1714.8 1359.3,1721.2 1365.1,1727.1 C1370.9,1733.1 1376.8,1739.0 1382.7,1744.7 C1388.6,1750.4 1394.4,1755.8 1400.3,1761.2 C1406.1,1766.6 1412.0,1771.8 1417.8,1777.2 C1423.7,1782.6 1429.5,1788.0 1435.4,1793.4 C1441.3,1798.8 1447.1,1804.5 1453.0,1809.6 C1458.8,1814.7 1464.7,1819.7 1470.5,1824.0 C1476.4,1828.2 1482.2,1831.9 1488.1,1835.2 C1493.9,1838.4 1499.8,1841.0 1505.7,1843.6 C1511.5,1846.3 1517.4,1848.5 1523.2,1851.1 C1529.0,1853.7 1535.0,1856.3 1540.6,1859.3 C1546.1,1862.2 1551.7,1865.6 1556.6,1868.9 C1561.6,1872.1 1565.9,1875.7 1570.1,1878.9 C1574.3,1882.1 1577.8,1885.1 1581.7,1887.8 C1585.6,1890.5 1589.4,1892.9 1593.5,1895.2 C1597.6,1897.5 1602.0,1899.5 1606.3,1901.5 C1610.7,1903.5 1615.1,1905.4 1619.5,1907.2 C1623.9,1909.0 1628.3,1910.8 1632.7,1912.5 C1637.1,1914.2 1641.5,1915.8 1645.9,1917.3 C1650.3,1918.9 1654.6,1920.3 1659.0,1921.7 C1663.4,1923.1 1667.8,1924.4 1672.2,1925.6 C1676.6,1926.9 1681.0,1928.1 1685.4,1929.2 C1689.8,1930.3 1694.2,1931.3 1698.6,1932.3 C1702.9,1933.3 1707.3,1934.3 1711.7,1935.4 C1716.1,1936.5 1720.5,1937.7 1724.9,1939.0 C1729.3,1940.2 1733.7,1941.6 1738.1,1942.8 C1742.5,1944.1 1746.8,1945.5 1751.2,1946.7 C1755.6,1947.9 1760.0,1949.2 1764.4,1950.2 C1768.8,1951.3 1773.3,1952.2 1777.6,1953.0 C1781.9,1953.9 1786.3,1954.6 1790.3,1955.2 C1794.3,1955.7 1798.1,1956.1 1801.7,1956.5 C1805.3,1956.9 1808.5,1957.1 1812.0,1957.5 C1815.6,1958.0 1819.1,1958.4 1823.0,1959.3 C1826.9,1960.1 1831.1,1961.3 1835.2,1962.6 C1839.3,1963.8 1843.6,1965.5 1847.8,1967.0 C1852.0,1968.4 1856.2,1970.1 1860.4,1971.4 C1864.6,1972.7 1868.8,1973.9 1873.0,1974.7 C1877.2,1975.5 1881.4,1976.0 1885.6,1976.4 C1889.8,1976.7 1894.0,1976.7 1898.2,1976.7 C1902.4,1976.7 1906.6,1976.5 1910.8,1976.4 C1915.0,1976.2 1919.2,1976.0 1923.4,1975.8 C1927.6,1975.7 1931.8,1975.5 1936.1,1975.4 C1940.3,1975.4 1944.5,1975.4 1948.7,1975.5 C1952.9,1975.6 1957.1,1975.8 1961.3,1976.1 C1965.5,1976.3 1969.7,1976.7 1973.9,1977.1 C1978.1,1977.5 1982.3,1977.9 1986.5,1978.3 C1990.7,1978.7 1994.8,1979.0 1999.1,1979.3 C2003.4,1979.7 2007.5,1979.9 2012.2,1980.2 C2016.8,1980.4 2021.7,1980.6 2027.1,1980.8 C2032.5,1981.1 2041.6,1981.4 2044.5,1981.5" stroke="#2170ad" stroke-width="5" fill="none" stroke-linejoin="round" stroke-linecap="round"/>
<path d="M225.0,1970.0 C230.5,1969.9 247.4,1969.3 258.1,1969.2 C268.9,1969.1 279.5,1969.0 289.4,1969.2 C299.3,1969.4 309.0,1970.0 317.5,1970.6 C326.0,1971.1 333.8,1971.9 340.6,1972.4 C347.4,1972.9 352.7,1973.4 358.4,1973.6 C364.0,1973.8 368.8,1973.7 374.3,1973.6 C379.8,1973.4 385.8,1973.0 391.3,1972.4 C396.8,1971.8 402.5,1970.9 407.2,1969.8 C411.9,1968.6 415.9,1967.2 419.5,1965.5 C423.1,1963.8 425.9,1961.8 428.8,1959.4 C431.8,1957.0 434.3,1954.2 437.0,1950.9 C439.6,1947.6 442.2,1943.8 444.8,1939.7 C447.5,1935.5 450.1,1930.8 452.7,1925.9 C455.3,1921.0 458.0,1915.6 460.5,1910.4 C463.0,1905.2 465.5,1899.3 467.7,1894.6 C469.9,1889.9 471.7,1885.5 473.6,1882.0 C475.5,1878.6 476.9,1877.3 479.0,1874.0 C481.2,1870.6 483.5,1868.2 486.6,1862.0 C489.7,1855.8 493.6,1846.9 497.4,1836.8 C501.2,1826.7 505.6,1813.6 509.6,1801.6 C513.6,1789.6 517.4,1776.9 521.3,1765.0 C525.1,1753.0 528.7,1741.4 532.6,1729.9 C536.4,1718.4 540.2,1707.1 544.2,1696.0 C548.2,1684.9 552.3,1673.9 556.6,1663.1 C560.8,1652.3 565.3,1641.7 569.6,1631.1 C574.0,1620.6 578.3,1610.2 582.5,1599.8 C586.8,1589.4 590.9,1579.1 595.1,1568.6 C599.2,1558.1 603.4,1547.6 607.5,1536.9 C611.6,1526.3 615.7,1515.5 619.7,1504.8 C623.7,1494.0 627.5,1483.4 631.5,1472.6 C635.5,1461.8 639.3,1450.9 643.6,1439.9 C647.8,1428.9 652.2,1417.6 656.8,1406.6 C661.4,1395.6 666.2,1384.6 671.0,1374.0 C675.8,1363.3 680.7,1352.9 685.6,1342.8 C690.5,1332.7 695.5,1322.7 700.4,1313.1 C705.3,1303.5 710.3,1294.2 715.0,1285.2 C719.7,1276.2 724.2,1267.4 728.5,1259.0 C732.8,1250.7 736.7,1242.5 740.7,1235.3 C744.8,1228.1 748.7,1221.6 752.8,1215.8 C756.9,1210.0 761.0,1205.0 765.2,1200.5 C769.4,1196.0 773.7,1192.3 778.2,1188.8 C782.7,1185.2 787.5,1182.2 792.4,1179.2 C797.2,1176.3 802.5,1173.6 807.4,1171.1 C812.2,1168.5 817.0,1166.3 821.5,1164.0 C826.1,1161.8 830.3,1159.7 834.5,1157.5 C838.8,1155.2 842.9,1152.9 847.1,1150.5 C851.3,1148.2 855.5,1145.6 859.7,1143.2 C863.9,1140.7 868.2,1138.2 872.4,1136.0 C876.5,1133.8 880.7,1131.6 884.6,1129.9 C888.4,1128.2 892.0,1126.7 895.6,1125.9 C899.1,1125.1 902.3,1124.9 905.8,1125.4 C909.4,1125.9 913.0,1127.3 916.9,1129.1 C920.7,1130.9 925.0,1133.5 929.1,1136.2 C933.1,1138.8 937.4,1142.0 941.2,1145.1 C945.1,1148.3 948.6,1151.5 952.3,1155.0 C955.9,1158.5 959.2,1162.0 963.0,1166.1 C966.9,1170.2 971.1,1174.5 975.6,1179.5 C980.0,1184.5 985.1,1190.1 990.0,1196.0 C994.9,1201.9 1000.0,1208.5 1004.9,1214.9 C1009.9,1221.4 1014.9,1228.3 1019.9,1234.6 C1024.9,1240.9 1029.9,1247.0 1034.9,1252.8 C1039.9,1258.6 1044.9,1263.7 1049.9,1269.3 C1054.9,1274.9 1059.9,1280.2 1064.9,1286.2 C1069.9,1292.2 1074.9,1298.6 1079.9,1305.2 C1084.8,1311.9 1089.9,1319.2 1094.8,1326.2 C1099.7,1333.2 1104.7,1340.5 1109.3,1347.3 C1113.9,1354.1 1118.1,1360.3 1122.5,1367.3 C1126.9,1374.2 1131.0,1380.8 1135.7,1388.8 C1140.5,1396.9 1145.7,1406.1 1151.0,1415.3 C1156.3,1424.5 1162.1,1434.8 1167.7,1443.9 C1173.3,1453.1 1178.9,1461.9 1184.5,1470.4 C1190.0,1478.9 1195.5,1486.7 1201.0,1494.8 C1206.5,1502.9 1212.0,1510.9 1217.5,1519.0 C1223.0,1527.1 1228.5,1535.4 1234.0,1543.6 C1239.6,1551.9 1245.1,1560.2 1250.6,1568.3 C1256.1,1576.5 1261.6,1584.6 1267.1,1592.4 C1272.6,1600.2 1278.2,1607.8 1283.6,1614.9 C1289.1,1622.1 1294.6,1628.8 1300.0,1635.4 C1305.3,1641.9 1310.7,1649.0 1315.8,1654.2 C1320.8,1659.5 1326.0,1662.9 1330.0,1667.0 C1334.0,1671.1 1336.7,1674.9 1340.0,1678.7 C1343.3,1682.5 1346.7,1686.3 1350.0,1689.8 C1353.3,1693.3 1356.7,1696.6 1360.0,1699.9 C1363.3,1703.2 1366.7,1706.5 1370.0,1709.8 C1373.3,1713.0 1376.7,1716.2 1380.0,1719.4 C1383.3,1722.7 1386.7,1726.1 1390.0,1729.4 C1393.3,1732.7 1396.7,1736.0 1400.0,1739.5 C1403.3,1742.9 1406.7,1746.5 1410.0,1750.1 C1413.3,1753.6 1416.7,1757.2 1420.0,1760.8 C1423.3,1764.3 1426.7,1768.0 1430.0,1771.6 C1433.3,1775.2 1436.7,1778.8 1440.0,1782.3 C1443.3,1785.8 1446.7,1789.4 1450.0,1792.7 C1453.3,1796.0 1456.7,1799.1 1460.0,1802.2 C1463.3,1805.2 1466.7,1808.5 1470.0,1811.2 C1473.3,1813.8 1476.7,1815.9 1480.0,1818.1 C1483.3,1820.4 1486.7,1822.7 1490.0,1824.6 C1493.3,1826.5 1496.7,1828.0 1500.0,1829.6 C1503.3,1831.1 1506.7,1832.6 1510.0,1834.0 C1513.3,1835.4 1516.7,1836.5 1520.0,1837.7 C1523.3,1839.0 1526.7,1840.2 1530.0,1841.3 C1533.3,1842.5 1536.7,1843.6 1540.0,1844.8 C1543.3,1846.1 1546.7,1847.5 1550.0,1848.9 C1553.3,1850.2 1556.7,1851.5 1560.0,1853.0 C1563.3,1854.5 1566.7,1856.2 1570.0,1857.9 C1573.3,1859.6 1576.7,1861.3 1580.0,1863.1 C1583.3,1864.9 1586.7,1866.9 1590.0,1868.9 C1593.3,1870.9 1596.7,1873.1 1600.0,1875.2 C1603.3,1877.4 1606.7,1879.6 1610.0,1881.8 C1613.3,1884.1 1616.7,1886.4 1620.0,1888.6 C1623.3,1890.8 1626.7,1892.9 1630.0,1894.9 C1633.3,1896.9 1636.7,1898.7 1640.0,1900.5 C1643.3,1902.2 1646.7,1903.8 1650.0,1905.2 C1653.3,1906.7 1656.7,1908.1 1660.0,1909.3 C1663.3,1910.5 1666.7,1911.6 1670.0,1912.7 C1673.3,1913.8 1676.7,1914.8 1680.0,1915.9 C1683.3,1916.9 1686.7,1918.0 1690.0,1919.1 C1693.3,1920.2 1696.7,1921.3 1700.0,1922.6 C1703.3,1923.8 1706.7,1925.2 1710.0,1926.7 C1713.3,1928.2 1716.7,1929.9 1720.0,1931.7 C1723.3,1933.5 1726.7,1935.4 1730.0,1937.3 C1733.3,1939.2 1736.7,1941.3 1740.0,1943.3 C1743.3,1945.4 1746.7,1947.5 1750.0,1949.5 C1753.3,1951.6 1756.7,1953.6 1760.0,1955.6 C1763.3,1957.5 1766.7,1959.4 1770.0,1961.3 C1773.3,1963.2 1776.7,1965.0 1780.0,1966.7 C1783.3,1968.4 1786.7,1970.0 1790.0,1971.5 C1793.3,1973.0 1796.7,1974.4 1800.0,1975.6 C1803.3,1976.8 1806.7,1978.0 1810.0,1978.8 C1813.3,1979.6 1816.7,1980.1 1820.0,1980.5 C1823.3,1980.9 1826.7,1981.0 1830.0,1981.0 C1833.3,1981.0 1836.7,1980.8 1840.0,1980.5 C1843.3,1980.3 1846.7,1979.9 1850.0,1979.5 C1853.3,1979.0 1856.7,1978.4 1860.0,1977.9 C1863.3,1977.4 1866.7,1976.8 1870.0,1976.4 C1873.3,1975.9 1876.7,1975.6 1880.0,1975.3 C1883.3,1975.1 1886.7,1975.0 1890.0,1974.9 C1893.3,1974.9 1896.7,1975.0 1900.0,1975.1 C1903.3,1975.2 1906.7,1975.5 1910.0,1975.7 C1913.3,1976.0 1916.7,1976.2 1920.0,1976.5 C1923.3,1976.8 1926.7,1977.1 1930.0,1977.5 C1933.3,1977.8 1936.7,1978.2 1940.0,1978.6 C1943.3,1979.1 1946.7,1979.5 1950.0,1980.0 C1953.3,1980.5 1956.7,1981.1 1960.0,1981.6 C1963.3,1982.2 1966.7,1982.7 1970.0,1983.3 C1973.3,1983.8 1976.7,1984.3 1980.0,1984.8 C1983.3,1985.3 1986.7,1985.7 1990.0,1986.1 C1993.3,1986.4 1996.7,1986.8 2000.0,1987.0 C2003.3,1987.2 2006.7,1987.3 2010.0,1987.3 C2013.3,1987.3 2016.7,1987.1 2020.0,1987.0 C2023.3,1986.9 2026.7,1986.7 2030.0,1986.5 C2033.3,1986.3 2037.7,1985.9 2040.0,1985.7 C2042.3,1985.6 2043.3,1985.5 2044.0,1985.4" stroke="#a03a2a" stroke-width="5" fill="none" stroke-linejoin="round" stroke-linecap="round"/>
<path d="M225.0,1969.0 C230.5,1968.9 247.4,1968.8 258.1,1968.6 C268.9,1968.5 279.5,1968.2 289.4,1968.0 C299.3,1967.8 309.0,1967.5 317.5,1967.4 C326.0,1967.3 333.8,1967.2 340.6,1967.2 C347.4,1967.2 352.7,1967.4 358.4,1967.3 C364.0,1967.3 368.8,1967.4 374.3,1967.2 C379.8,1967.0 385.8,1966.7 391.3,1966.1 C396.8,1965.5 402.5,1964.6 407.2,1963.5 C411.9,1962.3 415.9,1960.9 419.5,1959.3 C423.1,1957.6 425.9,1955.7 428.8,1953.4 C431.8,1951.2 434.3,1948.7 437.0,1945.7 C439.6,1942.7 442.2,1939.3 444.8,1935.4 C447.5,1931.5 450.1,1927.1 452.7,1922.4 C455.3,1917.8 458.0,1912.5 460.5,1907.5 C463.0,1902.4 465.5,1896.8 467.6,1892.3 C469.8,1887.9 471.5,1883.8 473.2,1880.7 C474.9,1877.5 475.9,1876.5 477.8,1873.4 C479.6,1870.3 481.5,1868.0 484.3,1861.9 C487.1,1855.8 490.9,1846.9 494.6,1836.8 C498.3,1826.7 502.8,1813.5 506.7,1801.4 C510.6,1789.3 514.4,1776.4 518.0,1764.1 C521.7,1751.9 525.0,1739.8 528.5,1727.9 C532.0,1716.1 535.4,1704.7 539.2,1693.1 C543.0,1681.4 547.0,1670.0 551.1,1657.9 C555.3,1645.8 559.7,1633.2 564.0,1620.6 C568.4,1608.0 572.7,1594.9 577.0,1582.3 C581.2,1569.7 585.3,1557.2 589.5,1545.1 C593.6,1533.1 597.8,1521.1 601.9,1510.0 C605.9,1498.9 610.0,1488.0 613.8,1478.4 C617.5,1468.8 620.9,1460.8 624.4,1452.5 C627.9,1444.1 631.0,1437.2 634.8,1428.4 C638.7,1419.6 642.9,1409.9 647.4,1399.8 C651.9,1389.8 657.0,1378.4 661.9,1368.1 C666.8,1357.8 671.9,1347.6 676.9,1337.9 C681.8,1328.2 686.8,1318.9 691.8,1309.7 C696.7,1300.6 701.8,1291.5 706.6,1283.0 C711.5,1274.5 716.5,1266.1 720.8,1258.6 C725.2,1251.1 729.1,1244.2 732.7,1238.0 C736.4,1231.7 739.3,1226.3 742.7,1221.1 C746.1,1216.0 749.4,1211.3 753.2,1207.0 C756.9,1202.7 761.0,1198.8 765.2,1195.3 C769.4,1191.7 773.7,1188.8 778.2,1185.9 C782.7,1183.0 787.5,1180.4 792.4,1177.8 C797.2,1175.2 802.5,1172.6 807.4,1170.2 C812.2,1167.8 817.0,1165.6 821.5,1163.4 C826.1,1161.2 830.3,1159.2 834.5,1157.0 C838.8,1154.8 842.9,1152.6 847.1,1150.2 C851.3,1147.8 855.5,1145.3 859.7,1142.9 C863.9,1140.5 868.2,1138.0 872.4,1135.8 C876.5,1133.6 880.7,1131.4 884.6,1129.7 C888.4,1128.0 892.0,1126.5 895.6,1125.6 C899.1,1124.8 902.3,1124.4 905.8,1124.6 C909.4,1124.8 913.0,1125.7 916.9,1126.8 C920.8,1127.9 924.9,1129.4 929.3,1131.4 C933.6,1133.3 938.1,1135.5 942.9,1138.3 C947.7,1141.1 952.8,1144.4 958.0,1148.2 C963.2,1152.1 968.8,1156.4 974.1,1161.3 C979.4,1166.1 984.6,1171.6 989.8,1177.3 C994.9,1183.0 999.9,1189.3 1004.9,1195.5 C1010.0,1201.6 1014.9,1208.1 1019.9,1214.2 C1024.9,1220.3 1029.9,1226.3 1034.9,1232.1 C1039.9,1237.8 1044.9,1243.3 1049.9,1248.7 C1054.9,1254.0 1059.9,1259.0 1064.9,1264.3 C1069.9,1269.5 1074.9,1274.6 1079.9,1280.1 C1084.8,1285.6 1089.8,1291.3 1094.8,1297.5 C1099.8,1303.7 1104.9,1310.4 1109.8,1317.2 C1114.7,1324.0 1119.7,1331.3 1124.2,1338.5 C1128.7,1345.7 1132.7,1352.9 1136.8,1360.3 C1140.8,1367.8 1144.3,1375.3 1148.5,1383.3 C1152.7,1391.3 1157.1,1399.9 1162.0,1408.4 C1166.9,1416.9 1172.5,1425.9 1177.9,1434.2 C1183.2,1442.6 1188.9,1450.6 1194.4,1458.3 C1199.9,1466.0 1205.4,1473.0 1210.9,1480.3 C1216.4,1487.6 1221.9,1494.5 1227.4,1501.9 C1232.9,1509.3 1238.5,1516.9 1244.0,1524.6 C1249.5,1532.4 1255.0,1540.6 1260.5,1548.5 C1266.0,1556.4 1271.5,1564.5 1277.0,1572.0 C1282.5,1579.6 1288.2,1587.0 1293.6,1593.8 C1298.9,1600.7 1304.4,1607.1 1309.3,1613.0 C1314.1,1618.9 1318.4,1624.1 1322.6,1629.3 C1326.8,1634.4 1330.2,1639.0 1334.5,1644.1 C1338.8,1649.2 1343.3,1654.4 1348.5,1659.7 C1353.6,1665.1 1359.4,1670.8 1365.1,1676.4 C1370.8,1682.1 1376.8,1687.6 1382.7,1693.4 C1388.6,1699.2 1394.4,1705.1 1400.3,1711.2 C1406.1,1717.4 1412.0,1723.9 1417.8,1730.4 C1423.7,1737.0 1429.5,1744.0 1435.4,1750.4 C1441.3,1756.8 1447.1,1763.3 1453.0,1769.0 C1458.8,1774.6 1464.7,1779.6 1470.5,1784.2 C1476.4,1788.9 1482.2,1792.8 1488.1,1797.0 C1493.9,1801.1 1499.8,1805.2 1505.7,1809.4 C1511.5,1813.5 1517.3,1817.9 1523.2,1821.9 C1529.1,1825.8 1535.0,1829.6 1540.9,1832.9 C1546.9,1836.2 1552.9,1838.9 1558.8,1841.5 C1564.7,1844.0 1570.8,1846.1 1576.3,1848.4 C1581.9,1850.7 1587.1,1852.8 1592.1,1855.5 C1597.1,1858.1 1601.7,1860.9 1606.2,1864.1 C1610.8,1867.2 1615.1,1870.9 1619.5,1874.3 C1623.9,1877.7 1628.3,1881.5 1632.7,1884.5 C1637.1,1887.5 1641.5,1890.2 1645.9,1892.3 C1650.3,1894.4 1654.6,1895.9 1659.0,1897.3 C1663.4,1898.7 1667.8,1899.6 1672.2,1900.6 C1676.6,1901.6 1681.0,1902.4 1685.4,1903.3 C1689.8,1904.2 1694.2,1905.1 1698.6,1906.1 C1702.9,1907.2 1707.3,1908.3 1711.7,1909.7 C1716.1,1911.1 1720.5,1912.7 1724.9,1914.4 C1729.3,1916.2 1733.7,1918.2 1738.1,1920.0 C1742.5,1921.8 1746.8,1923.6 1751.2,1925.2 C1755.6,1926.9 1760.0,1928.5 1764.4,1930.0 C1768.8,1931.5 1773.3,1933.1 1777.6,1934.4 C1781.9,1935.8 1786.3,1937.1 1790.3,1938.2 C1794.3,1939.2 1798.1,1939.9 1801.7,1940.6 C1805.3,1941.3 1808.5,1941.6 1812.0,1942.2 C1815.6,1942.7 1819.1,1943.2 1823.0,1944.1 C1826.9,1945.0 1831.1,1946.1 1835.2,1947.5 C1839.3,1948.9 1843.6,1950.6 1847.8,1952.4 C1852.0,1954.2 1856.2,1956.3 1860.4,1958.1 C1864.6,1959.9 1868.8,1961.9 1873.0,1963.3 C1877.2,1964.7 1881.4,1965.9 1885.6,1966.6 C1889.8,1967.3 1894.0,1967.5 1898.2,1967.4 C1902.4,1967.4 1906.6,1966.9 1910.8,1966.4 C1915.0,1965.9 1919.2,1965.1 1923.4,1964.4 C1927.6,1963.7 1931.8,1962.9 1936.1,1962.2 C1940.3,1961.6 1944.5,1961.0 1948.7,1960.6 C1952.9,1960.3 1957.1,1960.0 1961.3,1960.0 C1965.5,1960.0 1969.7,1960.1 1973.9,1960.4 C1978.1,1960.6 1982.3,1961.0 1986.5,1961.3 C1990.7,1961.7 1994.8,1962.1 1999.1,1962.6 C2003.4,1963.0 2007.5,1963.4 2012.2,1963.9 C2016.8,1964.3 2021.7,1964.8 2027.1,1965.3 C2032.5,1965.8 2041.6,1966.7 2044.5,1967.0" stroke="#e3b03c" stroke-width="5" fill="none" stroke-linejoin="round" stroke-linecap="round"/>
<path d="M225.0,1954.0 C228.5,1954.1 239.7,1954.4 246.2,1954.9 C252.8,1955.4 258.8,1956.0 264.4,1956.9 C270.1,1957.7 275.1,1958.9 280.4,1960.1 C285.7,1961.3 290.8,1962.6 296.2,1963.9 C301.6,1965.2 307.1,1966.5 312.6,1967.8 C318.0,1969.2 323.7,1970.6 329.0,1971.9 C334.3,1973.2 339.4,1974.6 344.5,1975.6 C349.6,1976.6 354.1,1977.5 359.5,1978.1 C364.8,1978.6 370.6,1979.0 376.8,1979.0 C383.0,1979.0 390.4,1978.8 396.7,1978.0 C403.0,1977.3 409.5,1976.2 414.6,1974.6 C419.7,1972.9 423.7,1970.8 427.4,1968.2 C431.1,1965.6 433.8,1962.6 436.7,1959.1 C439.6,1955.6 442.2,1951.5 444.7,1947.2 C447.3,1942.9 449.8,1938.1 452.1,1933.4 C454.4,1928.7 456.6,1923.8 458.6,1919.1 C460.7,1914.3 462.5,1909.9 464.5,1905.0 C466.6,1900.1 468.3,1895.9 470.8,1889.8 C473.3,1883.8 476.0,1877.3 479.3,1868.7 C482.6,1860.0 486.6,1849.2 490.5,1838.0 C494.3,1826.8 498.5,1813.8 502.3,1801.4 C506.1,1789.1 509.6,1776.4 513.1,1764.1 C516.5,1751.9 519.6,1739.8 522.8,1727.9 C526.0,1716.1 529.0,1704.7 532.4,1692.9 C535.7,1681.1 539.2,1669.5 542.9,1656.9 C546.6,1644.3 550.7,1631.0 554.7,1617.4 C558.7,1603.8 563.0,1589.2 567.0,1575.3 C571.0,1561.5 574.9,1547.2 578.6,1534.3 C582.4,1521.3 585.8,1509.0 589.4,1497.6 C592.9,1486.1 596.2,1476.1 599.9,1465.5 C603.6,1454.9 607.4,1444.9 611.7,1433.9 C615.9,1422.9 620.7,1410.9 625.5,1399.3 C630.3,1387.6 635.5,1375.3 640.5,1364.1 C645.4,1353.0 650.4,1342.6 655.3,1332.6 C660.2,1322.7 665.0,1313.7 669.8,1304.7 C674.7,1295.7 679.5,1287.0 684.5,1278.6 C689.4,1270.2 694.6,1261.9 699.6,1254.3 C704.6,1246.7 709.8,1239.4 714.6,1232.7 C719.4,1226.0 724.0,1220.0 728.4,1214.1 C732.7,1208.2 736.7,1202.8 740.7,1197.5 C744.8,1192.1 748.6,1186.9 752.8,1182.0 C756.9,1177.0 761.0,1172.3 765.6,1167.8 C770.2,1163.4 774.9,1159.2 780.2,1155.3 C785.4,1151.4 791.2,1147.6 797.1,1144.3 C803.0,1140.9 809.4,1137.9 815.6,1135.3 C821.9,1132.7 828.3,1130.6 834.5,1128.9 C840.8,1127.2 847.1,1125.9 853.1,1124.9 C859.0,1123.9 864.8,1123.3 870.1,1122.9 C875.5,1122.6 880.5,1122.4 885.2,1122.7 C889.9,1122.9 894.2,1123.4 898.5,1124.5 C902.8,1125.5 906.7,1127.0 910.8,1129.0 C914.9,1131.0 918.8,1133.6 922.9,1136.4 C927.0,1139.2 931.2,1142.5 935.3,1145.9 C939.5,1149.2 943.7,1152.8 947.9,1156.5 C952.2,1160.3 956.5,1164.0 961.1,1168.2 C965.6,1172.5 970.4,1176.9 975.2,1181.9 C980.0,1186.9 985.0,1192.5 990.0,1198.3 C994.9,1204.1 1000.0,1210.6 1004.9,1216.9 C1009.9,1223.2 1014.9,1229.9 1019.9,1236.0 C1024.9,1242.1 1029.9,1248.0 1034.9,1253.5 C1039.9,1259.1 1044.9,1264.0 1049.9,1269.3 C1054.9,1274.7 1059.9,1279.9 1064.9,1285.6 C1069.9,1291.4 1074.9,1297.6 1079.9,1304.0 C1084.8,1310.3 1089.9,1317.2 1094.8,1323.8 C1099.8,1330.5 1104.7,1337.1 1109.4,1343.8 C1114.1,1350.5 1118.5,1356.7 1123.0,1363.9 C1127.6,1371.2 1132.0,1378.6 1136.9,1387.1 C1141.8,1395.6 1147.1,1405.5 1152.5,1414.9 C1157.9,1424.3 1163.8,1434.5 1169.4,1443.6 C1175.0,1452.7 1180.6,1461.3 1186.1,1469.6 C1191.7,1477.9 1197.1,1485.5 1202.6,1493.4 C1208.2,1501.4 1213.7,1509.3 1219.2,1517.4 C1224.7,1525.5 1230.2,1533.8 1235.7,1542.0 C1241.2,1550.2 1246.7,1558.5 1252.2,1566.7 C1257.7,1574.8 1263.3,1583.0 1268.8,1590.7 C1274.3,1598.5 1279.8,1606.1 1285.3,1613.3 C1290.7,1620.5 1296.2,1627.2 1301.5,1633.9 C1306.8,1640.6 1311.8,1647.0 1316.9,1653.4 C1322.0,1659.8 1326.7,1666.2 1331.9,1672.4 C1337.1,1678.7 1342.4,1684.8 1347.9,1690.7 C1353.5,1696.7 1359.3,1702.3 1365.1,1708.0 C1370.9,1713.8 1376.8,1719.3 1382.7,1725.1 C1388.6,1730.8 1394.4,1736.7 1400.3,1742.7 C1406.1,1748.8 1412.0,1755.1 1417.8,1761.4 C1423.7,1767.7 1429.5,1774.3 1435.4,1780.5 C1441.3,1786.7 1447.1,1793.1 1453.0,1798.8 C1458.8,1804.5 1464.7,1810.0 1470.5,1814.6 C1476.4,1819.3 1482.2,1823.2 1488.1,1826.7 C1493.9,1830.2 1499.8,1832.8 1505.7,1835.4 C1511.5,1837.9 1517.3,1839.8 1523.2,1842.0 C1529.1,1844.1 1535.0,1845.9 1540.9,1848.2 C1546.9,1850.4 1552.9,1852.8 1558.8,1855.4 C1564.7,1858.1 1570.8,1861.1 1576.3,1864.0 C1581.9,1866.9 1587.1,1870.1 1592.1,1873.1 C1597.1,1876.1 1601.7,1879.2 1606.2,1882.3 C1610.8,1885.3 1615.1,1888.4 1619.5,1891.3 C1623.9,1894.2 1628.3,1897.1 1632.7,1899.6 C1637.1,1902.2 1641.5,1904.5 1645.9,1906.5 C1650.3,1908.6 1654.6,1910.3 1659.0,1912.0 C1663.4,1913.6 1667.8,1915.0 1672.2,1916.4 C1676.6,1917.8 1681.0,1919.1 1685.4,1920.5 C1689.8,1922.0 1694.2,1923.3 1698.6,1925.0 C1702.9,1926.6 1707.3,1928.4 1711.7,1930.4 C1716.1,1932.5 1720.5,1934.8 1724.9,1937.2 C1729.3,1939.7 1733.7,1942.5 1738.1,1945.1 C1742.5,1947.8 1746.8,1950.6 1751.2,1953.3 C1755.6,1956.0 1760.0,1958.7 1764.4,1961.2 C1768.8,1963.7 1773.3,1966.3 1777.6,1968.5 C1781.9,1970.8 1786.3,1972.9 1790.3,1974.7 C1794.3,1976.5 1798.1,1978.0 1801.7,1979.3 C1805.3,1980.6 1808.5,1981.6 1812.0,1982.4 C1815.6,1983.1 1819.1,1983.7 1823.0,1983.9 C1826.9,1984.2 1831.1,1984.2 1835.2,1984.0 C1839.3,1983.8 1843.6,1983.3 1847.8,1982.8 C1852.0,1982.3 1856.2,1981.5 1860.4,1980.8 C1864.6,1980.2 1868.8,1979.4 1873.0,1978.9 C1877.2,1978.4 1881.4,1978.0 1885.6,1977.9 C1889.8,1977.7 1894.0,1977.9 1898.2,1978.0 C1902.4,1978.2 1906.6,1978.5 1910.8,1978.8 C1915.0,1979.1 1919.2,1979.4 1923.4,1979.8 C1927.6,1980.2 1931.8,1980.6 1936.1,1981.1 C1940.3,1981.6 1944.5,1982.2 1948.7,1982.8 C1952.9,1983.4 1957.1,1984.1 1961.3,1984.8 C1965.5,1985.5 1969.7,1986.3 1973.9,1986.9 C1978.1,1987.6 1982.3,1988.2 1986.5,1988.7 C1990.7,1989.2 1994.8,1989.7 1999.1,1989.9 C2003.4,1990.2 2007.5,1990.4 2012.2,1990.3 C2016.8,1990.3 2021.7,1990.1 2027.1,1989.7 C2032.5,1989.4 2041.6,1988.6 2044.5,1988.4" stroke="#7b3589" stroke-width="5" fill="none" stroke-linejoin="round" stroke-linecap="round"/>
<path d="M225.0,1962.6 C229.0,1963.0 241.2,1963.9 249.0,1964.9 C256.8,1965.8 264.7,1967.2 272.1,1968.4 C279.4,1969.6 286.6,1971.1 293.2,1971.9 C299.9,1972.8 306.1,1973.3 312.1,1973.3 C318.0,1973.4 323.6,1972.8 329.0,1972.0 C334.4,1971.3 339.5,1970.1 344.5,1969.0 C349.5,1967.9 354.0,1966.7 359.0,1965.7 C363.9,1964.7 368.9,1963.8 374.3,1962.9 C379.7,1961.9 385.8,1961.0 391.3,1959.9 C396.8,1958.8 402.5,1957.6 407.4,1956.1 C412.3,1954.6 416.7,1952.9 420.7,1951.0 C424.7,1949.1 428.2,1946.9 431.5,1944.5 C434.9,1942.2 437.8,1939.6 440.6,1936.9 C443.3,1934.1 445.8,1931.2 448.1,1928.1 C450.5,1925.1 452.6,1922.0 454.8,1918.6 C457.1,1915.2 459.2,1911.7 461.4,1907.9 C463.7,1904.0 466.2,1899.6 468.5,1895.6 C470.9,1891.6 473.3,1887.4 475.5,1884.0 C477.7,1880.6 479.5,1878.7 481.8,1875.1 C484.1,1871.5 486.2,1868.7 489.1,1862.3 C492.1,1855.9 495.7,1846.9 499.4,1836.8 C503.2,1826.7 507.5,1813.6 511.5,1801.6 C515.5,1789.6 519.4,1776.9 523.4,1765.0 C527.4,1753.0 531.4,1741.3 535.5,1729.9 C539.7,1718.5 543.9,1707.2 548.3,1696.6 C552.8,1686.1 557.4,1676.0 562.0,1666.6 C566.6,1657.2 571.4,1648.7 576.0,1640.2 C580.5,1631.6 585.0,1623.7 589.3,1615.1 C593.6,1606.6 597.7,1598.1 601.9,1589.1 C606.0,1580.1 610.2,1570.6 614.3,1561.1 C618.4,1551.5 622.5,1541.5 626.5,1531.7 C630.5,1521.9 634.5,1511.7 638.2,1502.2 C641.8,1492.8 645.4,1483.0 648.4,1475.0 C651.5,1466.9 654.0,1460.2 656.7,1453.8 C659.4,1447.4 661.5,1443.0 664.7,1436.7 C667.8,1430.4 671.4,1423.7 675.6,1416.0 C679.7,1408.4 684.8,1399.5 689.7,1391.0 C694.6,1382.5 699.9,1373.7 704.9,1365.2 C709.9,1356.6 714.9,1347.9 719.7,1339.7 C724.4,1331.5 728.9,1323.4 733.4,1315.9 C737.8,1308.4 742.0,1301.6 746.3,1294.8 C750.6,1288.0 754.7,1281.4 758.9,1275.2 C763.1,1268.9 767.3,1262.7 771.5,1257.4 C775.7,1252.0 779.9,1247.2 784.1,1242.9 C788.3,1238.7 792.5,1235.2 796.7,1231.8 C800.9,1228.4 805.1,1225.7 809.3,1222.7 C813.5,1219.7 817.7,1217.1 821.9,1213.9 C826.1,1210.6 830.3,1207.3 834.5,1203.0 C838.7,1198.7 842.9,1193.6 847.1,1188.2 C851.3,1182.7 855.5,1176.3 859.7,1170.4 C863.9,1164.6 868.2,1158.3 872.4,1153.0 C876.5,1147.7 880.7,1142.6 884.8,1138.6 C888.9,1134.5 892.8,1131.2 896.7,1128.7 C900.5,1126.2 904.2,1124.7 907.9,1123.7 C911.6,1122.6 915.1,1122.4 918.8,1122.2 C922.4,1122.1 926.2,1122.3 929.9,1122.7 C933.7,1123.1 937.7,1123.8 941.4,1124.6 C945.1,1125.5 948.7,1126.5 952.3,1127.9 C955.9,1129.2 959.2,1130.7 963.0,1132.7 C966.9,1134.7 971.1,1137.1 975.6,1140.0 C980.0,1142.9 985.1,1146.5 990.0,1150.1 C994.9,1153.6 1000.0,1157.7 1004.9,1161.3 C1009.9,1164.9 1014.9,1168.4 1019.9,1171.7 C1024.9,1175.0 1029.9,1177.8 1034.9,1181.1 C1039.9,1184.3 1044.9,1187.5 1049.9,1191.2 C1054.9,1194.8 1059.9,1198.9 1064.9,1203.1 C1069.9,1207.2 1074.9,1211.6 1079.9,1216.0 C1084.8,1220.4 1089.8,1224.8 1094.8,1229.4 C1099.8,1234.0 1104.8,1238.7 1109.8,1243.6 C1114.8,1248.5 1119.8,1253.6 1124.8,1259.0 C1129.8,1264.5 1134.8,1270.1 1139.8,1276.2 C1144.8,1282.3 1149.8,1288.7 1154.8,1295.7 C1159.8,1302.6 1164.8,1310.1 1169.8,1317.7 C1174.7,1325.2 1179.7,1333.5 1184.2,1341.0 C1188.8,1348.5 1193.0,1356.0 1197.0,1362.8 C1201.0,1369.6 1204.3,1375.6 1208.3,1381.8 C1212.3,1388.0 1216.3,1393.7 1220.9,1400.0 C1225.5,1406.3 1230.7,1412.8 1235.9,1419.7 C1241.1,1426.5 1246.8,1433.7 1252.2,1441.0 C1257.7,1448.2 1263.3,1455.7 1268.8,1463.2 C1274.3,1470.6 1279.8,1478.3 1285.3,1485.7 C1290.7,1493.0 1296.2,1500.5 1301.5,1507.4 C1306.8,1514.2 1311.8,1520.6 1316.9,1526.8 C1322.0,1533.0 1326.7,1538.5 1331.9,1544.6 C1337.1,1550.6 1342.4,1556.6 1347.9,1563.2 C1353.5,1569.8 1359.3,1577.0 1365.1,1584.2 C1370.9,1591.4 1376.8,1599.2 1382.7,1606.5 C1388.6,1613.9 1394.4,1621.2 1400.3,1628.2 C1406.1,1635.3 1412.0,1642.0 1417.8,1648.9 C1423.7,1655.8 1429.6,1662.5 1435.4,1669.6 C1441.2,1676.7 1447.1,1684.3 1452.7,1691.5 C1458.4,1698.7 1463.9,1706.2 1469.1,1712.8 C1474.3,1719.3 1479.1,1725.4 1484.0,1730.8 C1489.0,1736.1 1493.6,1740.6 1498.7,1745.0 C1503.9,1749.4 1509.2,1753.2 1514.8,1757.1 C1520.3,1761.0 1526.3,1764.6 1532.0,1768.3 C1537.8,1772.0 1543.7,1775.7 1549.3,1779.5 C1554.8,1783.3 1560.3,1787.2 1565.4,1791.2 C1570.5,1795.3 1575.2,1799.4 1579.8,1803.8 C1584.5,1808.1 1588.8,1812.7 1593.2,1817.3 C1597.6,1821.8 1602.0,1826.8 1606.3,1831.0 C1610.7,1835.3 1615.1,1839.6 1619.5,1843.0 C1623.9,1846.4 1628.3,1849.1 1632.7,1851.4 C1637.1,1853.6 1641.5,1855.1 1645.9,1856.4 C1650.3,1857.8 1654.6,1858.6 1659.0,1859.5 C1663.4,1860.4 1667.8,1861.1 1672.2,1861.8 C1676.6,1862.6 1681.0,1863.3 1685.4,1864.1 C1689.8,1864.9 1694.2,1865.6 1698.6,1866.7 C1702.9,1867.7 1707.3,1868.7 1711.7,1870.4 C1716.1,1872.1 1720.5,1874.0 1724.9,1876.8 C1729.3,1879.6 1733.7,1883.2 1738.1,1887.1 C1742.5,1891.0 1746.8,1895.9 1751.2,1900.1 C1755.6,1904.3 1760.0,1908.9 1764.4,1912.3 C1768.8,1915.7 1773.3,1918.5 1777.6,1920.5 C1781.9,1922.5 1786.3,1923.6 1790.3,1924.4 C1794.3,1925.2 1798.1,1925.2 1801.7,1925.4 C1805.3,1925.6 1808.5,1925.3 1812.0,1925.6 C1815.6,1925.8 1819.1,1926.0 1823.0,1926.9 C1826.9,1927.8 1831.1,1929.2 1835.2,1931.2 C1839.3,1933.2 1843.6,1935.9 1847.8,1938.7 C1852.0,1941.5 1856.2,1944.9 1860.4,1947.9 C1864.6,1950.9 1868.8,1954.1 1873.0,1956.5 C1877.2,1958.9 1881.4,1961.1 1885.6,1962.6 C1889.8,1964.0 1894.0,1964.8 1898.2,1965.2 C1902.4,1965.5 1906.6,1965.1 1910.8,1964.6 C1915.0,1964.2 1919.2,1963.1 1923.4,1962.4 C1927.6,1961.7 1931.8,1960.9 1936.1,1960.7 C1940.3,1960.4 1944.5,1960.6 1948.7,1961.1 C1952.9,1961.6 1957.1,1962.7 1961.3,1963.7 C1965.5,1964.8 1969.7,1966.2 1973.9,1967.3 C1978.1,1968.4 1982.3,1969.5 1986.5,1970.3 C1990.7,1971.2 1994.8,1971.8 1999.1,1972.3 C2003.4,1972.9 2007.5,1973.3 2012.2,1973.7 C2016.8,1974.1 2021.7,1974.4 2027.1,1974.7 C2032.5,1975.1 2041.6,1975.6 2044.5,1975.8" stroke="#52b2dc" stroke-width="5" fill="none" stroke-linejoin="round" stroke-linecap="round"/>
<rect x="225.0" y="1122.0" width="1819.0" height="870.4" fill="none" stroke="#7c7c7c" stroke-width="3.5"/>
<g font-family="Liberation Sans, Arial, Helvetica, sans-serif" font-size="51" fill="#111">
<text x="216" y="2005.3" text-anchor="end">0</text>
<text x="216" y="1923.7" text-anchor="end">0.1</text>
<text x="216" y="1836.6" text-anchor="end">0.2</text>
<text x="216" y="1749.6" text-anchor="end">0.3</text>
<text x="216" y="1662.5" text-anchor="end">0.4</text>
<text x="216" y="1575.5" text-anchor="end">0.5</text>
<text x="216" y="1488.5" text-anchor="end">0.6</text>
<text x="216" y="1401.4" text-anchor="end">0.7</text>
<text x="216" y="1314.4" text-anchor="end">0.8</text>
<text x="216" y="1227.3" text-anchor="end">0.9</text>
<text x="216" y="1146.3" text-anchor="end">1</text>
<text x="229.6" y="2048.5" text-anchor="middle">450</text>
<text x="453.9" y="2048.5" text-anchor="middle">500</text>
<text x="679.8" y="2048.5" text-anchor="middle">550</text>
<text x="907.1" y="2048.5" text-anchor="middle">600</text>
<text x="1134.5" y="2048.5" text-anchor="middle">650</text>
<text x="1361.9" y="2048.5" text-anchor="middle">700</text>
<text x="1589.2" y="2048.5" text-anchor="middle">750</text>
<text x="1816.6" y="2048.5" text-anchor="middle">800</text>
<text x="2044.0" y="2048.5" text-anchor="middle">850</text>
</g>
<text font-family="Liberation Sans, Arial, Helvetica, sans-serif" font-size="56" fill="#111" x="1148.9" y="2116.2" text-anchor="middle">Wavelength (nm)</text>
<text font-family="Liberation Sans, Arial, Helvetica, sans-serif" font-size="56" fill="#111" transform="translate(100,1549.8) rotate(-90)" text-anchor="middle">Normalized intensity</text>
<text font-family="Liberation Sans, Arial, Helvetica, sans-serif" font-size="68" fill="#111" x="1927.8" y="1202.3">b<tspan dx="3.5">)</tspan></text>
<rect x="1688.7" y="1258.7" width="312.8" height="221.8" fill="#fff" stroke="#7c7c7c" stroke-width="3"/>
<path d="M1707,1286.0H1847" stroke="#2170ad" stroke-width="5"/>
<text font-family="Liberation Sans, Arial, Helvetica, sans-serif" font-size="44" fill="#111" x="1885" y="1301.7">F1</text>
<path d="M1707,1327.1H1847" stroke="#a03a2a" stroke-width="5"/>
<text font-family="Liberation Sans, Arial, Helvetica, sans-serif" font-size="44" fill="#111" x="1885" y="1342.8">F2</text>
<path d="M1707,1370.1H1847" stroke="#e3b03c" stroke-width="5"/>
<text font-family="Liberation Sans, Arial, Helvetica, sans-serif" font-size="44" fill="#111" x="1885" y="1385.8">F3</text>
<path d="M1707,1413.4H1847" stroke="#7b3589" stroke-width="5"/>
<text font-family="Liberation Sans, Arial, Helvetica, sans-serif" font-size="44" fill="#111" x="1885" y="1429.1">F4</text>
<path d="M1707,1456.8H1847" stroke="#52b2dc" stroke-width="5"/>
<text font-family="Liberation Sans, Arial, Helvetica, sans-serif" font-size="44" fill="#111" x="1885" y="1472.5">A2E</text>
</svg>
</body></html>
